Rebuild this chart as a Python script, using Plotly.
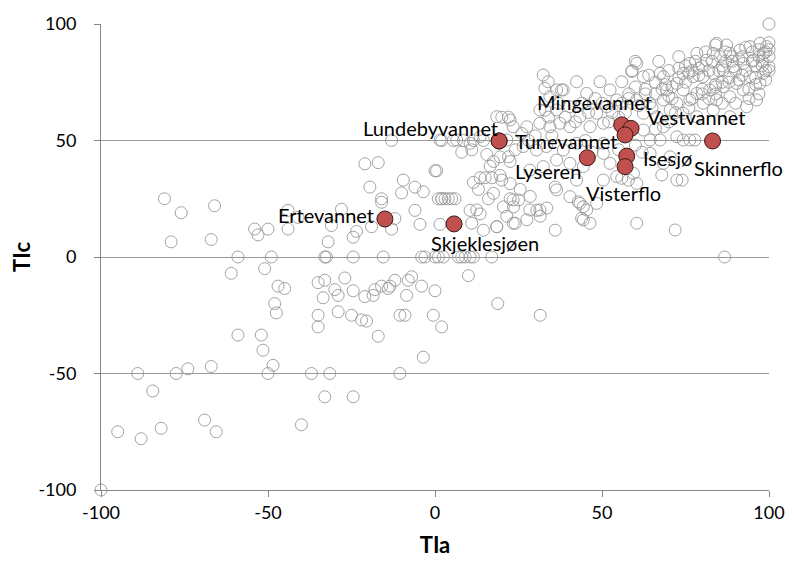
import plotly.graph_objects as go

# ---- data: background lakes (TIa, TIc) ----
gray_x = [
    -81, -76, -66, -79, -67, -54, -53, -50, -44, -44, -41, -59, -49, -61, -51, -47, -45, -48, -47.5, -59,
    -52, -51.5, -48.5, -50, -89, -77.5, -74, -67, -84.5, -95, -88, -82, -69, -65.5, -40, -100,
    -13, -21, -17, 0, -9.5, -19.5, -10, -6, -3.5, -16, -16, 2, -28, -6, -12, -31, -19, -13, -4.5, -23.5,
    -24.5, -32, 1.5, -33, -32.5, -24.5, -15.5, -4, -3, 0, 1,
    -35, -33, -27, -30, -29, -33.5, -24.5, -21, -18.5, -18, -16, -13.5, -14, -12, -8, -7, -8.5, -4, 0,
    -35, -35, -29, -25, -22, -20.5, -17, -10.5, -9, -0.5, 2, -3.5, -37, -31.5, -10.5, -33, -24.5,
    20, 22, 33, 34, 0.5, 8.5, 11.5, 14.5, 5.5, 2, 8, 11, 15.5, 17.5, 19.5, 22, 22.5, 16.5, 19.5, 20,
    13.5, 15, 17, 22.5, 11.5, 25.5, 13, 16, 1, 2, 3, 4, 5, 6, 22.5, 25, 28.5, 33.5, 36, 10.5, 13.5,
    20.5, 23.5, 21.5, 18.5, 24, 27.5, 30.5, 31.5, 36, 14.5, 11,
    2.5, 7, 8, 9, 10.5, 11.5, 17, 10, 18.8, 31.5, 86.7,
    100, 84.3, 87.3, 83.3, 78.4, 76.3, 81.3, 85.3, 88.3, 91.3, 94.3, 97.3, 99.3, 98.3, 100, 95.3, 92.3,
    89.3, 86.3, 83.3, 80.3, 77.3, 74.3, 72.4, 68.4, 67.4, 69.4, 74.3, 78.4, 82.3, 86.3, 90.3, 94.3, 98.3,
    100, 97.3, 88.3, 84.3, 80.3, 76.3, 72.4, 68.4, 64.4, 60.4, 58.9, 62.4, 70.4, 74.3, 78.4, 83.3, 88.3,
    93.3, 96.3, 92.3,
    32.4, 33.9, 42.4, 49.4, 55.9, 52.4, 45.4, 38.4, 34.4, 31.4, 36.4, 40.4, 43.4, 48.4, 51.4, 54.4, 60.4,
    62.4, 66.4, 68.4, 72.4, 76.3, 74.3, 77.8, 67.4, 64.4, 62.4, 18.5, 22.5, 23.4, 27.5, 31.4, 34.4, 37.4,
    40.4, 46.4, 50.4, 13.5, 10.5, 6.5, 1.5, 21.5, 26.4, 30.4, 33.4, 38.4, 42.4, 50.4, 50.4, 52.4, 40.4,
    36.4, 32.4, 28.4, 44.4, 64.4, 68.4, 70.4, 72.4, 59.4, 60.4, 54.4, 50.4, 36.4, 40.4, 43.4, 45.4, 44.4,
    48.4, 60.4, 71.9, 23.4, 28.4, 31.4, 18.5, 23.4, 12.5, 17.5,
    42.4, 42.9, 44.4, 43.9, 46.4, 67.9, 74, 55.9, 57.9, 32.9, 36.4, 37.9,
    85, 87, 89, 90, 92, 93, 95, 96, 97, 98, 99, 100, 100, 99, 96, 94, 91, 88, 86, 84, 82, 80, 79, 77,
    75, 73, 71, 70, 68, 66, 65, 63, 61, 60, 58, 57, 56, 55, 53, 52, 50, 48, 46, 44, 42, 39, 37, 35, 30,
    28, 26, 24, 45, 47, 55, 60, 62, 66, 70, 72, 76, 80, 82, 84, 86, 90, 94, 97, 99, 87, 84, 81, 78, 75,
    73, 70, 67, 64, 100, 60, 59,
    91, 93, 95, 97, 89, 86, 83, 79, 76, 73, 96, 98, 92, 88, 84, 80, 77, 71, 69, 66, 63, 58,
]
gray_y = [
    25, 19, 22, 6.5, 7.5, 12, 9.5, 12, 20, 12, 17, 0, 0, -7, -5, -12.5, -13.5, -20, -24, -33.5,
    -33.5, -40, -46.5, -50, -50, -50, -48, -47, -57.5, -75, -78, -73.5, -70, -75, -72, -100,
    50, 40, 40.5, 37, 33, 30, 27.5, 30, 28, 25, 23.5, 25, 20.5, 20, 16.5, 13.5, 13, 12, 14, 11,
    8.5, 6.5, 14, 0, 0, 0, 0, 0, 0, 0, 0,
    -11, -10, -9, -14, -16.5, -17.5, -14.5, -17, -16.5, -14, -12.5, -12.5, -13.5, -10, -10, -8.5, -16.5, -12.5, -14.5,
    -25, -30, -23.5, -25, -27, -27.5, -34, -25, -25, -25, -30, -43, -50, -50, -50, -60, -60,
    60, 60, 63, 60, 37, 50, 50, 50, 50, 50, 45, 46, 44, 41, 43, 43, 41, 39, 35, 33,
    34, 34, 34, 31.5, 32, 29, 29, 25, 25, 25, 25, 25, 25, 25, 25, 24.5, 26, 21, 30, 20, 18.5,
    21.5, 21.5, 17.5, 13, 14.5, 16, 20, 17.5, 11.5, 11.5, 14.5,
    0, 0, 0, 0, 0, 0, 0, -8, -20, -25, 0,
    100, 91.7, 91, 87.4, 87.4, 83.1, 84.5, 86, 87.4, 88.8, 90.3, 91.7, 90.3, 87.4, 86, 84.5, 83.1,
    81.7, 80.3, 78.8, 77.4, 77.4, 78.8, 74.5, 77.4, 78.8, 71.7, 71.7, 70.2, 71.7, 73.1, 74.5, 77.4, 78.8,
    81.7, 74.5, 68.8, 67.4, 66, 67.4, 66, 67.4, 66, 83.1, 79.6, 77.4, 63.1, 61.7, 60.2, 63.1, 60.2,
    64.5, 67.4, 71.7,
    78.1, 75.2, 75.2, 75.2, 75.2, 71.7, 70.2, 71.7, 68.8, 63.1, 63.1, 64.5, 60.2, 61.7, 64.5, 67.4, 67.4,
    61.7, 60.2, 55.9, 51.6, 50.2, 50.2, 50.2, 50.2, 50.2, 54.5, 60.2, 58.8, 55.9, 55.9, 57.4, 55.9, 57.4,
    55.9, 55.9, 57.4, 51.6, 48.8, 50.2, 50.2, 50.2, 47.4, 45.9, 47.4, 45.9, 48.8, 48.8, 44.5, 40.2, 40.2,
    41.6, 38.8, 37.3, 38.8, 44.5, 40.2, 43, 33, 35.9, 31.6, 34.5, 33, 28.8, 25.9, 23, 20.2, 15.9,
    23, 14.5, 11.6, 24.5, 20.2, 20.2, 13, 14.5, 20.2, 27.3,
    33, 23.7, 21.6, 16.6, 14.5, 35.2, 33, 33.8, 33, 72.4, 71.7, 71.7,
    80, 84, 86, 80, 86, 80, 88, 82, 86, 84, 88, 89, 92, 80, 77, 72, 76, 77, 75, 74, 80, 82, 78, 80,
    75, 77, 73, 69, 72, 70, 64, 70, 65, 73, 70, 62, 66, 60, 62, 58, 66, 68, 62, 66, 58, 60, 66, 52, 52,
    50, 53, 46, 50, 45, 46, 48, 45, 55, 58, 62, 64, 70, 68, 70, 66, 66, 68, 70, 76, 88, 91, 88, 84, 82,
    86, 80, 84, 78, 80, 84, 80,
    85, 90, 84, 89, 84, 82, 84, 81, 79, 81, 74, 82, 78, 75, 73, 72, 68, 68, 74, 75, 72, 68,
]

# ---- data: highlighted lakes ----
red_names = ["Ertevannet", "Skjeklesjøen", "Lundebyvannet", "Tunevannet", "Mingevannet",
             "Vestvannet", "", "Lyseren", "Isesjø", "Visterflo", "Skinnerflo"]
red_x = [-15.0, 5.7, 19.2, 19.2, 55.9, 58.7, 56.9, 45.6, 57.4, 56.9, 83.1]
red_y = [16.3, 14.2, 49.8, 49.8, 56.7, 55.2, 52.4, 42.6, 43.3, 38.8, 49.8]

x_ticks = [-100, -50, 0, 50, 100]
x_tick_text = ["-100", "-50", "0", "50", "100"]
y_ticks = [-100, -50, 0, 50, 100]
y_tick_text = ["-100", "-50", "0", "50", "100"]

# label offsets in pixels (style)
label_shift = {
    "Ertevannet": (-59, 4), "Skjeklesjøen": (31, -19), "Lundebyvannet": (-69, 13),
    "Tunevannet": (67, 0), "Mingevannet": (-27, 23), "Vestvannet": (65, 11),
    "Lyseren": (-39, -13), "Isesjø": (41, -2), "Visterflo": (-2, -26), "Skinnerflo": (26, -27),
}

FONT = "Lato"

fig = go.Figure()
fig.add_trace(go.Scatter(
    x=gray_x, y=gray_y, mode="markers", cliponaxis=False,
    marker=dict(size=12, color="rgba(0,0,0,0)", line=dict(color="#999999", width=0.9)),
    hoverinfo="skip", showlegend=False))
fig.add_trace(go.Scatter(
    x=red_x, y=red_y, mode="markers", cliponaxis=False,
    marker=dict(size=16, color="#c0504d", line=dict(color="#3a1a19", width=1)),
    text=red_names, showlegend=False))

for name, xv, yv in zip(red_names, red_x, red_y):
    if not name:
        continue
    dx, dy = label_shift[name]
    fig.add_annotation(x=xv, y=yv, text=name, showarrow=False, xshift=dx, yshift=dy,
                       xanchor="center", yanchor="middle",
                       font=dict(family=FONT, size=20, color="black"))

fig.update_layout(
    width=786, height=555,
    margin=dict(l=93, r=25, t=16, b=73),
    paper_bgcolor="white", plot_bgcolor="white",
    font=dict(family=FONT, size=18, color="black"),
    xaxis=dict(range=[-100, 100], tickvals=x_ticks, ticktext=x_tick_text, showgrid=False,
               zeroline=False, automargin=False,
               showline=True, linecolor="#868686", linewidth=1,
               ticks="outside", ticklen=6, tickcolor="#868686",
               title=dict(text="<b>TIa</b>", font=dict(family=FONT, size=22), standoff=16)),
    yaxis=dict(range=[-100, 100], tickvals=y_ticks, ticktext=y_tick_text, showgrid=True,
               gridcolor="#9a9a9a", gridwidth=1, zeroline=False, automargin=False,
               showline=True, linecolor="#868686", linewidth=1,
               ticks="outside", ticklen=6, tickcolor="#868686", ticklabelstandoff=14,
               title=dict(text="<b>TIc</b>", font=dict(family=FONT, size=22), standoff=12)),
)

fig.write_html("out.html")
